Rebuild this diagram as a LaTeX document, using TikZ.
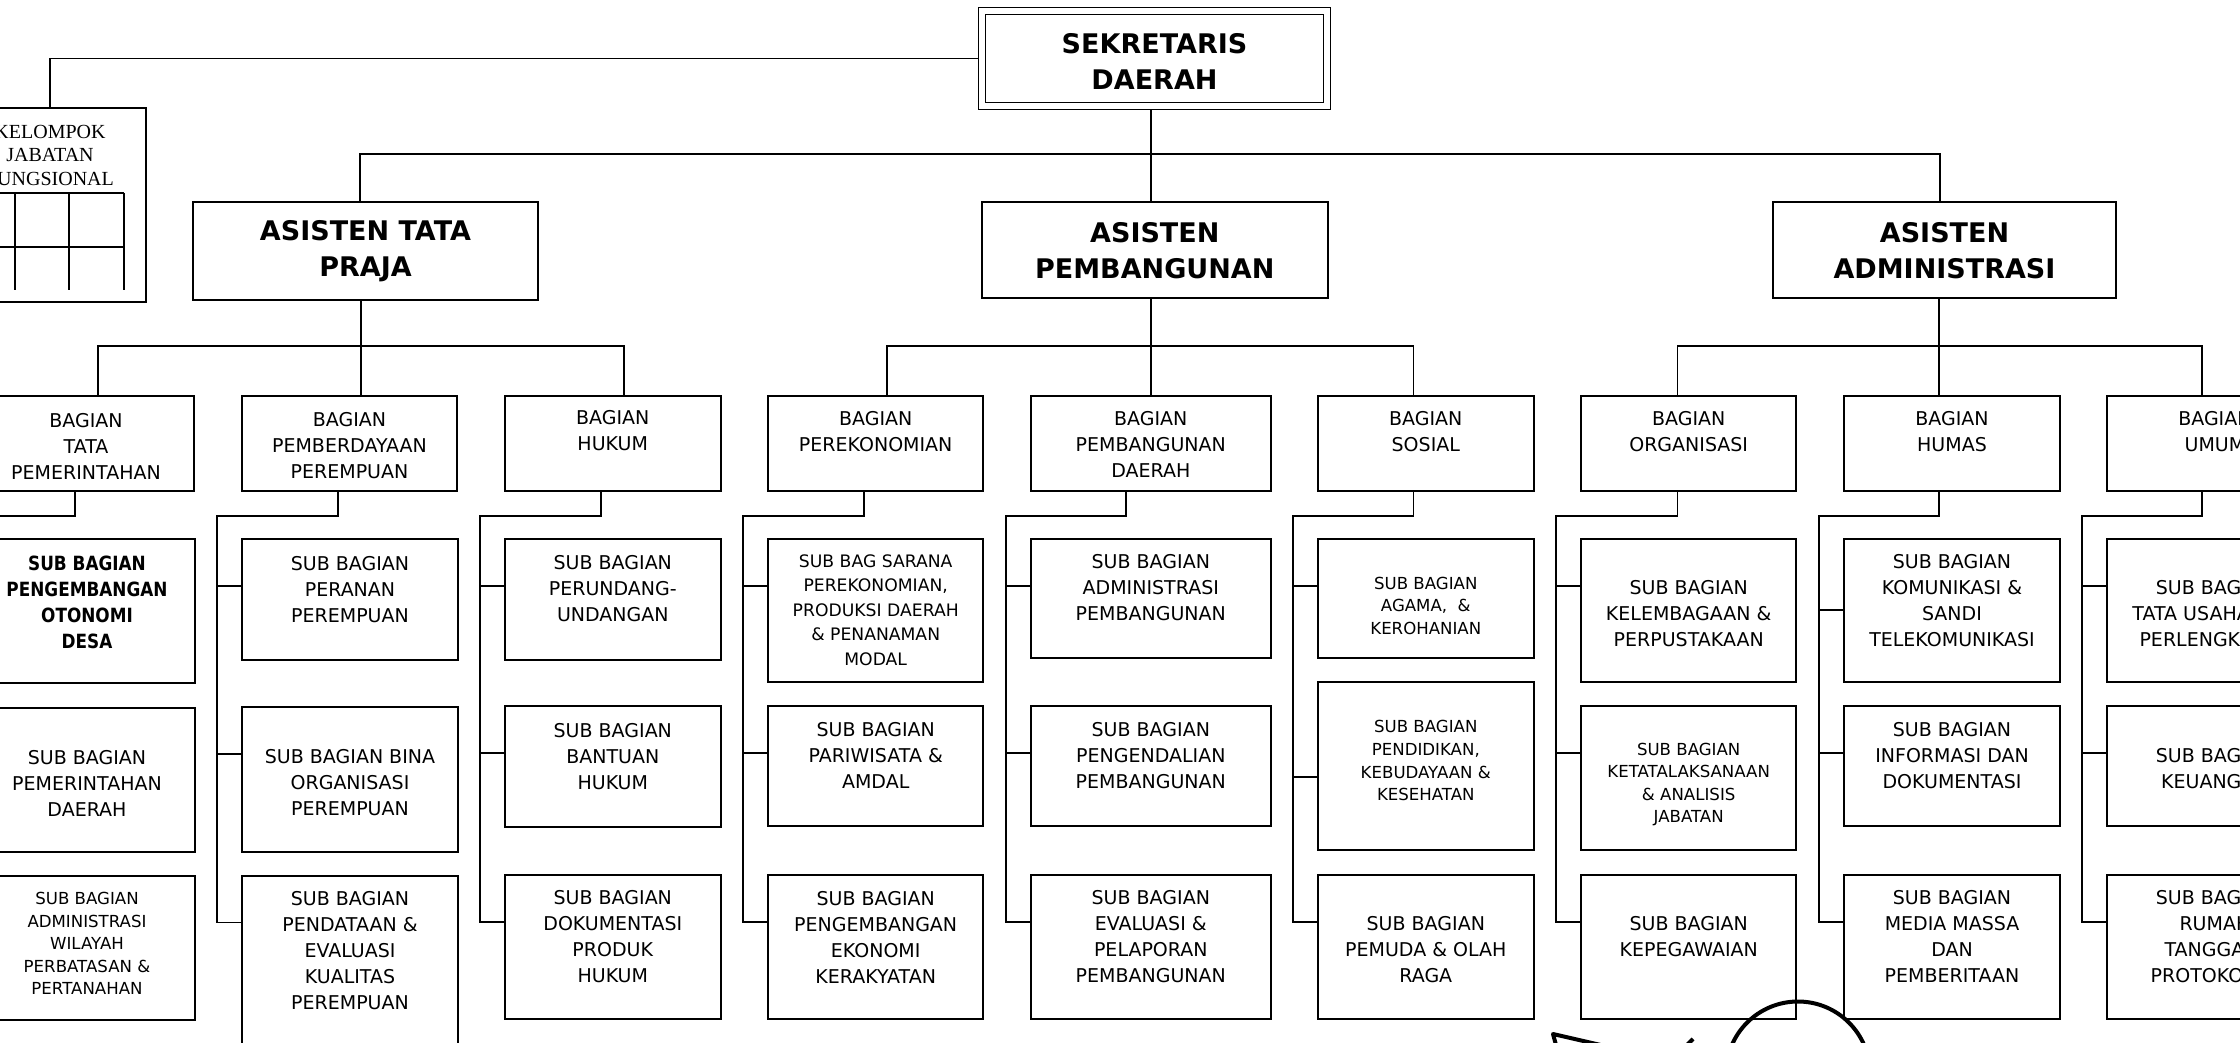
\documentclass[tikz,border=0pt]{standalone}
\usepackage{fontspec}
\setmainfont{DejaVu Sans}
\newfontfamily\serifkjf{Liberation Serif}
\newfontfamily\condfont{DejaVu Sans}[FakeStretch=0.86]
\usetikzlibrary{calc}
\pgfdeclarelayer{bg}
\pgfsetlayers{bg,main}
\tikzset{
  box/.style={draw, line width=1pt, rectangle, inner sep=0pt, fill=white},
  conn/.style={line width=0.9pt},
  txt/.style={align=center, inner sep=0pt, font=\fontsize{9.5}{13}\selectfont},
  smalltxt/.style={align=center, inner sep=0pt, font=\fontsize{8.3}{11.3}\selectfont},
  saranatxt/.style={align=center, inner sep=0pt, font=\fontsize{8.6}{12.3}\selectfont},
  boldsub/.style={align=center, inner sep=0pt, font=\condfont\bfseries\fontsize{9.8}{13}\selectfont},
  titletxt/.style={align=center, inner sep=0pt, font=\bfseries\fontsize{13.5}{18}\selectfont},
  kjftxt/.style={align=center, inner sep=0pt, font=\serifkjf\fontsize{10}{11.8}\selectfont},
}
\newcommand\bx[6]{\node[box,#6,minimum width={((#4)-(#2))*0.5pt},minimum height={((#5)-(#3))*0.5pt}] (#1) at ({((#2)+(#4))/2},{((#3)+(#5))/2}) {};}
\newcommand\tx[5]{\node[#1] (#2) at (#3,#4) {#5};}
\newcommand\subtree[7]{%
  \draw[conn] ([xshift=#2]#1.south) -- ++(0,24) -| ([xshift=-12pt,yshift=-24pt]#5.north west) -- ([yshift=-24pt]#5.north west);
  \draw[conn] ([yshift=#6]#3.north west) -- ++(-24,0);
  \draw[conn] ([yshift=#7]#4.north west) -- ++(-24,0);
}
\begin{document}
\begin{tikzpicture}[x=0.5pt,y=-0.5pt]
\useasboundingbox (0,0) rectangle (2240,1043);
\clip (0,0) rectangle (2240,1043);
\begin{pgfonlayer}{bg}
\fill[white] (0,0) rectangle (2240,1043);
\end{pgfonlayer}

% ---------- top level ----------
\bx{sek}{982}{11}{1327}{106}{double,double distance=2.6pt,line width=0.9pt}
\tx{titletxt}{sek-t}{1154.5}{61}{SEKRETARIS\\DAERAH}

\bx{kjf}{-46}{108}{146}{302}{}
\tx{kjftxt}{kjf-t}{50}{155.3}{KELOMPOK\\JABATAN\\FUNGSIONAL}
\draw[line width=0.8pt] (-10,193) -- (124,193) (-10,247) -- (124,247)
  (15,193) -- (15,290) (69,193) -- (69,290) (124,193) -- (124,290);

\bx{atp}{193}{202}{538}{300}{}
\tx{titletxt}{atp-t}{365.5}{251.3}{ASISTEN TATA\\PRAJA}
\bx{asp}{982}{202}{1327.6}{298}{}
\tx{titletxt}{asp-t}{1154.8}{251}{ASISTEN\\PEMBANGUNAN}
\bx{aad}{1772.5}{202}{2116.4}{298}{}
\tx{titletxt}{aad-t}{1944.5}{251}{ASISTEN\\ADMINISTRASI}

% ---------- bagian ----------
\bx{btpm}{-22}{396}{194}{491}{}
\tx{txt}{btpm-t}{86}{446}{BAGIAN\\TATA\\PEMERINTAHAN}
\bx{bpp}{242}{396}{457}{491}{}
\tx{txt}{bpp-t}{349.5}{446}{BAGIAN\\PEMBERDAYAAN\\PEREMPUAN}
\bx{bhk}{504.6}{396}{720.8}{491}{}
\tx{txt}{bhk-t}{612.7}{431}{BAGIAN\\HUKUM}
\bx{bpe}{768}{396}{983.4}{491}{}
\tx{txt}{bpe-t}{875.7}{432}{BAGIAN\\PEREKONOMIAN}
\bx{bpd}{1031}{396}{1270.6}{491}{}
\tx{txt}{bpd-t}{1150.8}{444.5}{BAGIAN\\PEMBANGUNAN\\DAERAH}
\bx{bso}{1317.6}{396}{1534}{491}{}
\tx{txt}{bso-t}{1425.8}{432}{BAGIAN\\SOSIAL}
\bx{bor}{1581}{396}{1796.4}{491}{}
\tx{txt}{bor-t}{1688.7}{432}{BAGIAN\\ORGANISASI}
\bx{bhu}{1844}{396}{2060}{491}{}
\tx{txt}{bhu-t}{1952}{432}{BAGIAN\\HUMAS}
\bx{bum}{2106.8}{396}{2323}{491}{}
\tx{txt}{bum-t}{2214.9}{432}{BAGIAN\\UMUM}

% ---------- sub bagian: tata praja ----------
\bx{stp1}{-21}{539}{195}{683}{}
\tx{boldsub}{stp1-t}{87}{602}{SUB BAGIAN\\PENGEMBANGAN\\OTONOMI\\DESA}
\bx{stp2}{-21}{708}{195}{852}{}
\tx{txt}{stp2-t}{87}{783.4}{SUB BAGIAN\\PEMERINTAHAN\\DAERAH}
\bx{stp3}{-21}{875.5}{195}{1020}{}
\tx{smalltxt}{stp3-t}{87}{943.5}{SUB BAGIAN\\ADMINISTRASI\\WILAYAH\\PERBATASAN \&\\PERTANAHAN}

\bx{spp1}{242}{539}{458}{660}{}
\tx{txt}{spp1-t}{350}{589.5}{SUB BAGIAN\\PERANAN\\PEREMPUAN}
\bx{spp2}{242}{707}{458}{852}{}
\tx{txt}{spp2-t}{350}{782.4}{SUB BAGIAN BINA\\ORGANISASI\\PEREMPUAN}
\bx{spp3}{242}{875.5}{458}{1070}{}
\tx{txt}{spp3-t}{350}{951}{SUB BAGIAN\\PENDATAAN \&\\EVALUASI\\KUALITAS\\PEREMPUAN}

\bx{shk1}{504.6}{539}{721}{660}{}
\tx{txt}{shk1-t}{612.8}{588.7}{SUB BAGIAN\\PERUNDANG-\\UNDANGAN}
\bx{shk2}{504.6}{706}{721}{827}{}
\tx{txt}{shk2-t}{612.8}{756.5}{SUB BAGIAN\\BANTUAN\\HUKUM}
\bx{shk3}{504.6}{874.6}{721}{1019}{}
\tx{txt}{shk3-t}{612.8}{937}{SUB BAGIAN\\DOKUMENTASI\\PRODUK\\HUKUM}

% ---------- sub bagian: pembangunan ----------
\bx{spe1}{768}{539}{983.4}{682}{}
\tx{saranatxt}{spe1-t}{875.7}{610}{SUB BAG SARANA\\PEREKONOMIAN,\\PRODUKSI DAERAH\\\& PENANAMAN\\MODAL}
\bx{spe2}{768}{706}{983.4}{826}{}
\tx{txt}{spe2-t}{875.7}{755.7}{SUB BAGIAN\\PARIWISATA \&\\AMDAL}
\bx{spe3}{768}{874.6}{983.4}{1018.5}{}
\tx{txt}{spe3-t}{875.7}{937}{SUB BAGIAN\\PENGEMBANGAN\\EKONOMI\\KERAKYATAN}

\bx{spd1}{1031}{539}{1270.6}{658}{}
\tx{txt}{spd1-t}{1150.8}{587.6}{SUB BAGIAN\\ADMINISTRASI\\PEMBANGUNAN}
\bx{spd2}{1031}{706}{1270.6}{826}{}
\tx{txt}{spd2-t}{1150.8}{755.7}{SUB BAGIAN\\PENGENDALIAN\\PEMBANGUNAN}
\bx{spd3}{1031}{874.6}{1270.6}{1018.5}{}
\tx{txt}{spd3-t}{1150.8}{937}{SUB BAGIAN\\EVALUASI \&\\PELAPORAN\\PEMBANGUNAN}

\bx{sso1}{1317.6}{539}{1534}{658}{}
\tx{smalltxt}{sso1-t}{1425.8}{605.7}{SUB BAGIAN\\AGAMA,\ \ \&\\KEROHANIAN}
\bx{sso2}{1317.6}{682}{1534}{850}{}
\tx{smalltxt}{sso2-t}{1425.8}{760.8}{SUB BAGIAN\\PENDIDIKAN,\\KEBUDAYAAN \&\\KESEHATAN}
\bx{sso3}{1317.6}{874.6}{1534}{1018.5}{}
\tx{txt}{sso3-t}{1425.8}{949.3}{SUB BAGIAN\\PEMUDA \& OLAH\\RAGA}

% ---------- sub bagian: administrasi ----------
\bx{sor1}{1581}{539}{1796.4}{682}{}
\tx{txt}{sor1-t}{1688.7}{613.7}{SUB BAGIAN\\KELEMBAGAAN \&\\PERPUSTAKAAN}
\bx{sor2}{1581}{706}{1796.4}{850}{}
\tx{smalltxt}{sor2-t}{1688.7}{784.5}{SUB BAGIAN\\KETATALAKSANAAN\\\& ANALISIS\\JABATAN}
\bx{sor3}{1581}{874.6}{1796.4}{1018.5}{}
\tx{txt}{sor3-t}{1688.7}{936.7}{SUB BAGIAN\\KEPEGAWAIAN}

\bx{shu1}{1844}{539}{2060}{682}{}
\tx{txt}{shu1-t}{1952}{601}{SUB BAGIAN\\KOMUNIKASI \&\\SANDI\\TELEKOMUNIKASI}
\bx{shu2}{1844}{706}{2060}{826}{}
\tx{txt}{shu2-t}{1952}{755.7}{SUB BAGIAN\\INFORMASI DAN\\DOKUMENTASI}
\bx{shu3}{1844}{874.6}{2060}{1018.5}{}
\tx{txt}{shu3-t}{1952}{936.7}{SUB BAGIAN\\MEDIA MASSA\\DAN\\PEMBERITAAN}

\bx{sum1}{2106.8}{539}{2323}{682}{}
\tx{txt}{sum1-t}{2214.9}{613.7}{SUB BAGIAN\\TATA USAHA DAN\\PERLENGKAPAN}
\bx{sum2}{2106.8}{706}{2323}{826}{}
\tx{txt}{sum2-t}{2214.9}{768.4}{SUB BAGIAN\\KEUANGAN}
\bx{sum3}{2106.8}{874.6}{2323}{1018.5}{}
\tx{txt}{sum3-t}{2214.9}{936.7}{SUB BAGIAN\\RUMAH\\TANGGA \&\\PROTOKOLER}

% ---------- connectors ----------
\begin{pgfonlayer}{bg}
\draw[conn] (sek.west) -| (kjf.north);
\draw[conn] ([xshift=-1.9pt]asp.north) -- ([xshift=-1.9pt]asp.north |- sek.south);
\draw[conn] ([xshift=-2.75pt]atp.north) -- ++(0,-47) -| ([xshift=-2.25pt]aad.north);

\draw[conn] ([xshift=-2.25pt]atp.south) -- ([xshift=-2.25pt]atp.south |- bpp.north);
\draw[conn] ([xshift=6pt]btpm.north) -- ++(0,-49) -| ([xshift=5.65pt]bhk.north);
\draw[conn] ([xshift=-1.9pt]asp.south) -- ([xshift=-1.9pt]asp.south |- bpd.north);
\draw[conn] ([xshift=5.65pt]bpe.north) -- ++(0,-49) -| ([xshift=-6.15pt]bso.north);
\draw[conn] ([xshift=-2.75pt]aad.south) -- ([xshift=-2.75pt]aad.south |- bhu.north);
\draw[conn] ([xshift=-5.6pt]bor.north) -- ++(0,-49) -| ([xshift=-6.55pt]bum.north);

\subtree{btpm}{-5.5pt}{stp1}{stp2}{stp3}{-24pt}{-24pt}
\subtree{bpp}{-5.75pt}{spp1}{spp2}{spp3}{-24pt}{-24pt}
\subtree{bhk}{-5.85pt}{shk1}{shk2}{shk3}{-24pt}{-24pt}
\subtree{bpe}{-5.85pt}{spe1}{spe2}{spe3}{-24pt}{-24pt}
\subtree{bpd}{-12.4pt}{spd1}{spd2}{spd3}{-24pt}{-24pt}
\subtree{bso}{-6.15pt}{sso1}{sso2}{sso3}{-24pt}{-48pt}
\subtree{bor}{-5.6pt}{sor1}{sor2}{sor3}{-24pt}{-24pt}
\subtree{bhu}{-6.5pt}{shu1}{shu2}{shu3}{-36pt}{-24pt}
\subtree{bum}{-6.6pt}{sum1}{sum2}{sum3}{-24pt}{-24pt}
\end{pgfonlayer}

% ---------- hand marks at the bottom ----------
\draw[line width=2pt] (1798,1073.5) circle[radius=36pt];
\draw[line width=2pt, line join=round] (1556,1045) -- (1553,1034) -- (1605,1046);
\draw[line width=2pt] (1686,1046) -- (1693,1039);
\end{tikzpicture}
\end{document}
